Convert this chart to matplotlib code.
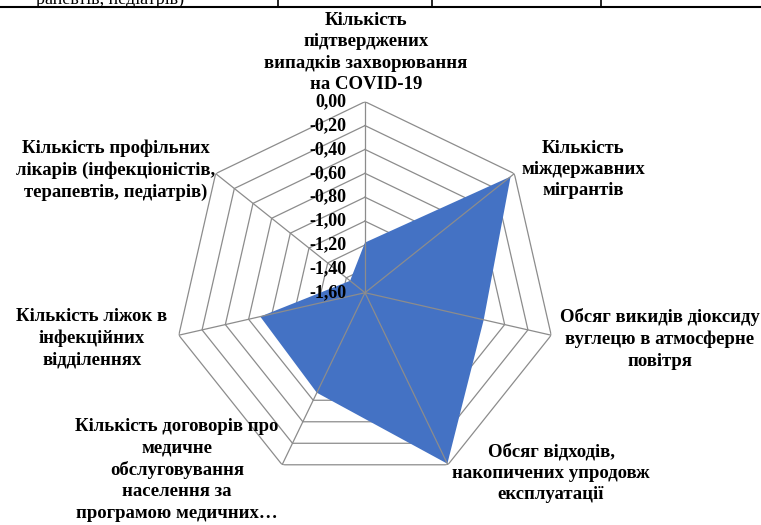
import numpy as np
import matplotlib.pyplot as plt
from matplotlib.lines import Line2D

### indicators (one spoke each, clockwise from the top)
labels = [
    'Кількість\nпідтверджених\nвипадків захворювання\nна COVID-19',
    'Кількість\nміждержавних\nмігрантів',
    'Обсяг викидів діоксиду\nвуглецю в атмосферне\nповітря',
    'Обсяг відходів,\nнакопичених упродовж\nексплуатації',
    'Кількість договорів про\nмедичне\nобслуговування\nнаселення за\nпрограмою медичних…',
    'Кількість ліжок в\nінфекційних\nвідділеннях',
    'Кількість профільних\nлікарів (інфекціоністів,\nтерапевтів, педіатрів)',
]
values = [-1.18, -0.04, -0.58, -0.01, -0.67, -0.70, -1.44]
ring_levels = [-1.60, -1.40, -1.20, -1.00, -0.80, -0.60, -0.40, -0.20, 0.00]
ring_labels = ['-1,60', '-1,40', '-1,20', '-1,00', '-0,80', '-0,60', '-0,40', '-0,20', '0,00']

W, H = 761, 525
plt.rcParams['font.family'] = ['Liberation Serif', 'DejaVu Serif']

fig = plt.figure(figsize=(W / 100, H / 100), dpi=100)

### polar axes: centre at (365, 293) px, radius 191 px
cx, cy, R = 365, 292.7, 191
ax = fig.add_axes([(cx - R) / W, (H - cy - R) / H, 2 * R / W, 2 * R / H], projection='polar')
ax.set_theta_zero_location('N')
ax.set_theta_direction(-1)
ax.set_ylim(-1.6, 0)
ax.grid(False)
ax.spines['polar'].set_visible(False)
ax.set_xticks([])
ax.set_yticks([])
ax.patch.set_visible(False)

n = len(values)
theta = np.linspace(0, 2 * np.pi, n, endpoint=False)
theta_c = np.append(theta, theta[0])

grid_col = '#8c8c8c'
for lev in ring_levels[1:]:
    ax.plot(theta_c, [lev] * (n + 1), color=grid_col, lw=0.9, zorder=1)

vals_c = np.append(values, values[0])
ax.fill(theta_c, vals_c, color='#4472C4', lw=0, zorder=2)

for t in theta:
    ax.plot([t, t], [-1.6, 0], color=grid_col, lw=0.9, zorder=3)

for lev, lab in zip(ring_levels, ring_labels):
    ax.annotate(lab, xy=(0, lev), xytext=(-19, 0), textcoords='offset pixels',
                ha='right', va='center', fontsize=13, fontweight='bold', zorder=5)

### category labels (block centres in px)
label_pos = [(366, 52.5), (583, 169.5), (660, 339), (551, 473),
             (177, 470), (92, 338), (116, 170)]
for lab, (x, y) in zip(labels, label_pos):
    fig.text(x / W, 1 - y / H, lab, ha='center', va='center', multialignment='center',
             fontsize=13.5, fontweight='bold', linespacing=1.33)

### bottom of the table above the chart
fig.add_artist(Line2D([0, 1], [1 - 7 / H, 1 - 7 / H], color='black', lw=1.5))
for xv in [278, 432, 601]:
    fig.add_artist(Line2D([xv / W, xv / W], [1 - 7 / H, 1], color='black', lw=1.2))
fig.text(184 / W, 1 - 4 / H, 'рапевтів, педіатрів)', ha='right', va='baseline', fontsize=13)

plt.savefig('out.png', dpi=100)
